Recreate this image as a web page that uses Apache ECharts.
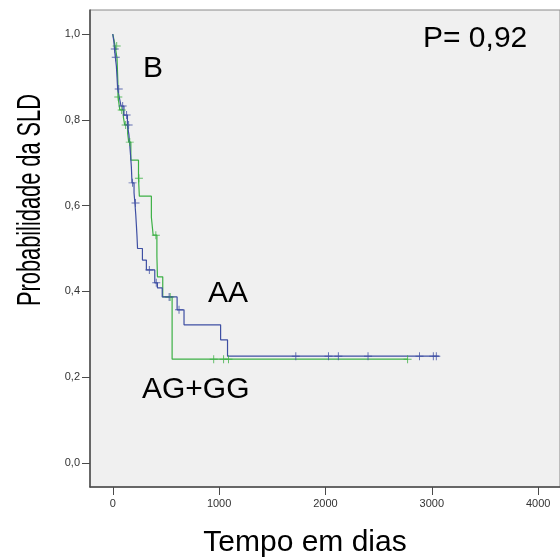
<!DOCTYPE html>
<html>
<head>
<meta charset="utf-8">
<script src="https://cdn.jsdelivr.net/npm/echarts@6/dist/echarts.min.js"></script>
<style>
  html, body { margin: 0; padding: 0; background: #fff; }
  #chart { width: 560px; height: 560px; }
</style>
</head>
<body>
<div id="chart"></div>
<script>
// eixos
const xTicks = [0, 1000, 2000, 3000, 4000];
const yTicks = [0, 0.2, 0.4, 0.6, 0.8, 1.0];

// AA: curva de Kaplan-Meier (tempo, probabilidade)
const aaTimes = [0, 10, 16, 24, 34, 40, 46, 62, 78, 105, 138, 152, 160, 168, 175, 181, 200, 208, 216, 222, 228, 233, 279, 316, 395, 420, 465, 605, 670, 1014, 1079, 3070];
const aaSurv = [1.0, 0.983, 0.965, 0.946, 0.925, 0.9, 0.872, 0.852, 0.832, 0.811, 0.788, 0.765, 0.74, 0.715, 0.69, 0.653, 0.63, 0.606, 0.58, 0.555, 0.528, 0.5, 0.473, 0.45, 0.42, 0.408, 0.387, 0.357, 0.322, 0.287, 0.249, 0.249];
// AA: censuras
const aaCensorTimes = [19, 28, 56, 93, 130, 149, 186, 214, 344, 409, 530, 623, 1721, 2028, 2121, 2400, 2884, 3014, 3042];
const aaCensorSurv = [0.965, 0.946, 0.872, 0.832, 0.811, 0.788, 0.653, 0.606, 0.45, 0.42, 0.387, 0.357, 0.249, 0.249, 0.249, 0.249, 0.249, 0.249, 0.249];

// AG+GG
const agTimes = [0, 12, 22, 40, 44, 48, 50, 66, 100, 112, 140, 150, 170, 242, 250, 363, 380, 415, 420, 470, 558, 2775];
const agSurv = [1.0, 0.986, 0.972, 0.944, 0.916, 0.888, 0.853, 0.823, 0.806, 0.788, 0.768, 0.748, 0.706, 0.664, 0.622, 0.573, 0.531, 0.482, 0.434, 0.387, 0.242, 0.242];
const agCensorTimes = [37, 52, 84, 121, 160, 246, 405, 540, 949, 1042, 1088, 2772];
const agCensorSurv = [0.972, 0.853, 0.823, 0.788, 0.748, 0.664, 0.531, 0.387, 0.242, 0.242, 0.242, 0.242];

const blue = "#3e4fa3";
const green = "#3cb045";
const cross = "path://M0,4.4H10V5.6H0Z M4.4,0H5.6V10H4.4Z";
const font = "'Liberation Sans', Arial, sans-serif";

function pairs(xs, ys) {
  return xs.map((x, i) => [x, ys[i]]);
}

const myChart = echarts.init(document.getElementById("chart"));
var option = {
  animation: false,
  grid: {
    left: 90,
    top: 10,
    right: -5,
    bottom: 73,
    show: true,
    backgroundColor: "#f0f0f0",
    borderColor: "#8a8a8a",
    borderWidth: 1,
  },
  xAxis: {
    type: "value",
    min: -214,
    max: 4205,
    axisLine: { onZero: false, lineStyle: { color: "#4a4a4a", width: 1.5 } },
    axisTick: { customValues: xTicks, length: 8, lineStyle: { color: "#4a4a4a" } },
    axisLabel: {
      customValues: xTicks,
      margin: 11,
      fontSize: 11,
      color: "#333",
      fontFamily: font,
      formatter: (v) => String(v),
    },
    splitLine: { show: false },
  },
  yAxis: {
    type: "value",
    min: -0.056,
    max: 1.056,
    axisLine: { onZero: false, lineStyle: { color: "#4a4a4a", width: 1.5 } },
    axisTick: { customValues: yTicks, length: 8, lineStyle: { color: "#4a4a4a" } },
    axisLabel: {
      customValues: yTicks,
      margin: 10,
      fontSize: 11,
      color: "#333",
      fontFamily: font,
      formatter: (v) => v.toFixed(1).replace(".", ","),
    },
    splitLine: { show: false },
  },
  graphic: [
    { type: "text", x: 143, y: 69, style: { text: "B", font: "30px " + font, fill: "#000", textAlign: "left", textVerticalAlign: "middle" } },
    { type: "text", x: 423, y: 39, style: { text: "P= 0,92", font: "30px " + font, fill: "#000", textAlign: "left", textVerticalAlign: "middle" } },
    { type: "text", x: 208, y: 294, style: { text: "AA", font: "30px " + font, fill: "#000", textAlign: "left", textVerticalAlign: "middle" } },
    { type: "text", x: 142, y: 390, style: { text: "AG+GG", font: "30px " + font, fill: "#000", textAlign: "left", textVerticalAlign: "middle" } },
    { type: "text", x: 305, y: 543, style: { text: "Tempo em dias", font: "30px " + font, fill: "#000", textAlign: "center", textVerticalAlign: "middle" } },
    {
      type: "text",
      x: 31,
      y: 200,
      rotation: Math.PI / 2,
      scaleX: 0.66,
      style: { text: "Probabilidade da SLD", font: "33px " + font, fill: "#000", textAlign: "center", textVerticalAlign: "middle" },
    },
  ],
  series: [
    {
      name: "AG+GG",
      type: "line",
      step: "end",
      showSymbol: false,
      lineStyle: { color: green, width: 1.2 },
      data: pairs(agTimes, agSurv),
      z: 2,
    },
    {
      name: "AA",
      type: "line",
      step: "end",
      showSymbol: false,
      lineStyle: { color: blue, width: 1.2 },
      data: pairs(aaTimes, aaSurv),
      z: 3,
    },
    {
      type: "scatter",
      symbol: cross,
      symbolSize: 8,
      itemStyle: { color: green },
      data: pairs(agCensorTimes, agCensorSurv),
      z: 4,
    },
    {
      type: "scatter",
      symbol: cross,
      symbolSize: 8,
      itemStyle: { color: blue },
      data: pairs(aaCensorTimes, aaCensorSurv),
      z: 5,
    },
  ],
};

myChart.setOption(option);
window.addEventListener("resize", function () {
  myChart.resize();
});
</script>
</body>
</html>
